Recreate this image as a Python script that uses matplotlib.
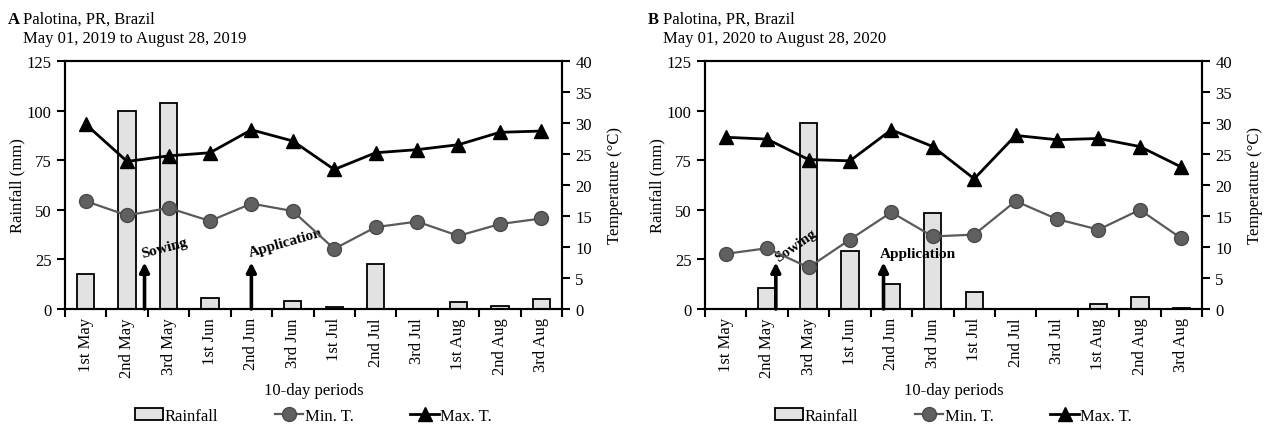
import numpy as np
import matplotlib
matplotlib.use("Agg")
import matplotlib.pyplot as plt

plt.rcParams['font.family'] = ['Liberation Serif', 'DejaVu Serif']
plt.rcParams['font.size'] = 12

# 10-day periods
periods = ['1st May', '2nd May', '3rd May', '1st Jun', '2nd Jun', '3rd Jun',
           '1st Jul', '2nd Jul', '3rd Jul', '1st Aug', '2nd Aug', '3rd Aug']

# 2019 season (panel A)
rain_2019 = [17.5, 100, 104, 5.4, 0, 4.2, 1.0, 22.7, 0.2, 3.4, 1.3, 5.0]
tmin_2019 = [17.4, 15.1, 16.3, 14.2, 17.0, 15.8, 9.7, 13.2, 14.1, 11.8, 13.7, 14.6]
tmax_2019 = [29.8, 23.8, 24.7, 25.2, 28.9, 27.1, 22.5, 25.2, 25.7, 26.5, 28.5, 28.7]

# 2020 season (panel B)
rain_2020 = [0, 10.4, 93.8, 29.1, 12.6, 48.2, 8.4, 0, 0, 2.5, 5.9, 0.3]
tmin_2020 = [8.9, 9.8, 6.7, 11.2, 15.6, 11.7, 12.0, 17.4, 14.5, 12.8, 16.0, 11.4]
tmax_2020 = [27.7, 27.4, 24.1, 23.9, 28.9, 26.2, 21.0, 28.0, 27.3, 27.5, 26.2, 22.9]

panels = [
    dict(letter='A', place='Palotina, PR, Brazil',
         dates='May 01, 2019 to August 28, 2019',
         rain=rain_2019, tmin=tmin_2019, tmax=tmax_2019,
         sow=1.42, app=4.0,
         sow_txt=(1.36, 26.0, 15), app_txt=(3.97, 26.5, 16)),
    dict(letter='B', place='Palotina, PR, Brazil',
         dates='May 01, 2020 to August 28, 2020',
         rain=rain_2020, tmin=tmin_2020, tmax=tmax_2020,
         sow=1.21, app=3.81,
         sow_txt=(1.28, 24.0, 35), app_txt=(3.73, 26.0, 0)),
]

W, H = 1267, 427
fig = plt.figure(figsize=(W / 100, H / 100), dpi=100)

lefts = [65, 705]
x = np.arange(len(periods))

for p, left in zip(panels, lefts):
    ax = fig.add_axes([left / W, 1 - 310 / H, 497 / W, 248 / H])
    ax2 = ax.twinx()

    bars = ax.bar(x, p['rain'], width=0.42, color='#e2e2e2', edgecolor='black',
                  linewidth=1.3, label='Rainfall')
    l1, = ax2.plot(x, p['tmin'], '-o', color='#5a5a5a', lw=1.6, ms=10,
                   mfc='#606060', mec='#4a4a4a', label='Min. T.')
    l2, = ax2.plot(x, p['tmax'], '-^', color='black', lw=2, ms=10,
                   mfc='black', mec='black', label='Max. T.')

    ax.set_xlim(-0.5, len(periods) - 0.5)
    ax.set_ylim(0, 125)
    ax.set_yticks(np.arange(0, 126, 25))
    ax2.set_ylim(0, 40)
    ax2.set_yticks(np.arange(0, 41, 5))

    ax.set_xticks(x)
    ax.set_xticklabels(periods, rotation=90)
    ax.tick_params(axis='x', length=0, pad=6)
    ax.set_xticks(np.arange(-0.5, len(periods), 1), minor=True)
    ax.tick_params(axis='x', which='minor', length=6, width=1.5, direction='out')
    ax.tick_params(axis='y', length=6, width=1.5, direction='out')
    ax2.tick_params(axis='y', length=6, width=1.5, direction='out')

    for a in (ax, ax2):
        for s in a.spines.values():
            s.set_linewidth(1.5)

    ax.set_ylabel('Rainfall (mm)', labelpad=1)
    ax2.set_ylabel('Temperature (°C)', labelpad=11)
    ax.set_xlabel('10-day periods', labelpad=4)

    # management events
    for xpos in (p['sow'], p['app']):
        ax.annotate('', xy=(xpos, 23.5), xytext=(xpos, 0),
                    arrowprops=dict(arrowstyle='-|>', lw=2.6, color='black',
                                    mutation_scale=14, shrinkA=0, shrinkB=0))
    sx, sy, sr = p['sow_txt']
    ax.text(sx, sy, 'Sowing', fontsize=11, fontweight='bold', rotation=sr,
            rotation_mode='anchor', ha='left', va='baseline')
    axx, ay, ar = p['app_txt']
    ax.text(axx, ay, 'Application', fontsize=11, fontweight='bold', rotation=ar,
            rotation_mode='anchor', ha='left', va='baseline')

    ax.legend([bars, l1, l2], ['Rainfall', 'Min. T.', 'Max. T.'],
              loc='center', bbox_to_anchor=(0.5, -0.43), ncol=3, frameon=False,
              handlelength=1.7, handletextpad=0.1, columnspacing=3.4,
              fontsize=12)

    # titles
    fx = (left - 57) / W
    fig.text(fx, 1 - 24 / H, p['letter'], fontweight='bold', ha='left', va='baseline')
    fig.text(fx + 15 / W, 1 - 24 / H, p['place'], ha='left', va='baseline')
    fig.text(fx + 15 / W, 1 - 43 / H, p['dates'], ha='left', va='baseline')

fig.savefig('out.png', dpi=100)
